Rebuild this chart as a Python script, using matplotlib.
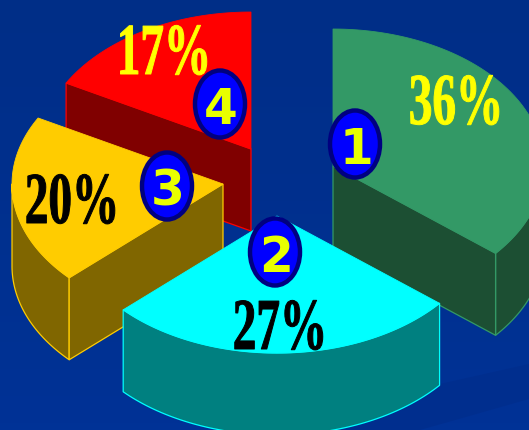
import numpy as np
import matplotlib
matplotlib.use("Agg")
import matplotlib.pyplot as plt
from matplotlib.patches import Ellipse, Polygon
from matplotlib.patheffects import AbstractPathEffect
from matplotlib.transforms import Affine2D

# ------------ DATA ------------
shares = [36, 27, 20, 17]
badges = ["1", "2", "3", "4"]
top_colors = ["#339966", "#00ffff", "#ffcc00", "#ff0000"]
side_colors = ["#1c4f33", "#008080", "#806600", "#800000"]
label_colors = ["#ffff00", "#000000", "#000000", "#ffff00"]

# pie geometry in pixels, slices are pulled apart around their own apex
RX, RY, DEPTH = 211, 137, 82
apexes = [(333, 167), (277, 217), (223, 185), (251, 150)]
label_pos = [(456, 125), (280, 350), (72, 224), (164, 75)]
badge_pos = [(355, 145), (275, 253), (167, 187), (220, 105)]
# red is at the back, cyan in front
draw_order = [3, 2, 0, 1]


class StretchY(AbstractPathEffect):
    # tall condensed look for the percent labels
    def __init__(self, factor, stroke):
        super().__init__()
        self.factor = factor
        self.stroke = stroke

    def draw_path(self, renderer, gc, tpath, affine, rgbFace=None):
        gc0 = renderer.new_gc()
        gc0.copy_properties(gc)
        gc0.set_linewidth(self.stroke)
        gc0.set_foreground(rgbFace)
        renderer.draw_path(gc0, tpath, Affine2D().scale(1, self.factor) + affine, rgbFace)
        gc0.restore()


def rim(apex, t0, t1):
    t = np.radians(np.linspace(t0, t1, 80))
    return np.column_stack([apex[0] + RX * np.sin(t), apex[1] - RY * np.cos(t)])


def extrude(points):
    lower = points[::-1] + np.array([0, DEPTH])
    return np.vstack([points, lower])


def draw_slice(ax, i, t0, t1):
    apex = np.array(apexes[i], dtype=float)
    edge = top_colors[i]
    side = side_colors[i]

    # outer wall, only the part that faces the viewer
    a, b = max(t0, 90), min(t1, 270)
    if a < b:
        ax.add_patch(Polygon(extrude(rim(apex, a, b)), fc=side, ec=edge, lw=0.9, joinstyle="round"))

    # cut faces
    if np.sin(np.radians(t0)) < -1e-6:
        cut = np.vstack([apex, rim(apex, t0, t0)[0]])
        ax.add_patch(Polygon(extrude(cut), fc=side, ec=edge, lw=0.9))
    if np.sin(np.radians(t1)) > 1e-6:
        cut = np.vstack([apex, rim(apex, t1, t1)[0]])
        ax.add_patch(Polygon(extrude(cut), fc=side, ec=edge, lw=0.9))

    top = np.vstack([apex, rim(apex, t0, t1)])
    ax.add_patch(Polygon(top, fc=edge, ec=edge, lw=0.6))


fig = plt.figure(figsize=(5.29, 4.31), dpi=100)
ax = fig.add_axes([0, 0, 1, 1])
ax.set_xlim(0, 529)
ax.set_ylim(431, 0)
ax.axis("off")

# background
ramp = np.linspace(0, 1, 64)[:, None, None]
bg = (1 - ramp) * np.array([0, 46, 135]) + ramp * np.array([0, 50, 150])
ax.imshow(bg.astype(np.uint8), extent=[0, 529, 431, 0], aspect="auto", zorder=0)
ax.add_patch(Polygon([(420, 431), (529, 400), (529, 365), (440, 385), (340, 431)],
                     fc="#002e8e", ec="none", zorder=0.5))

edges = np.cumsum([0] + shares) / sum(shares) * 360
for i in draw_order:
    draw_slice(ax, i, edges[i], edges[i + 1])

for i in draw_order:
    ax.add_patch(Ellipse(badge_pos[i], 50, 67, fc="#0000ff", ec="#000080", lw=3.2, zorder=4))
    ax.text(badge_pos[i][0] + 1, badge_pos[i][1] + 19, badges[i], fontsize=35, fontweight="bold",
            family="DejaVu Sans", color="#e8ff00", ha="center", va="baseline", zorder=5)

for i in range(len(shares)):
    t = ax.text(label_pos[i][0], label_pos[i][1], f"{shares[i]}%", fontsize=34, fontweight="bold",
                family="Liberation Serif", color=label_colors[i], ha="center", va="baseline", zorder=6)
    t.set_path_effects([StretchY(1.55, 0.7)])

plt.savefig("out.png", dpi=100)
